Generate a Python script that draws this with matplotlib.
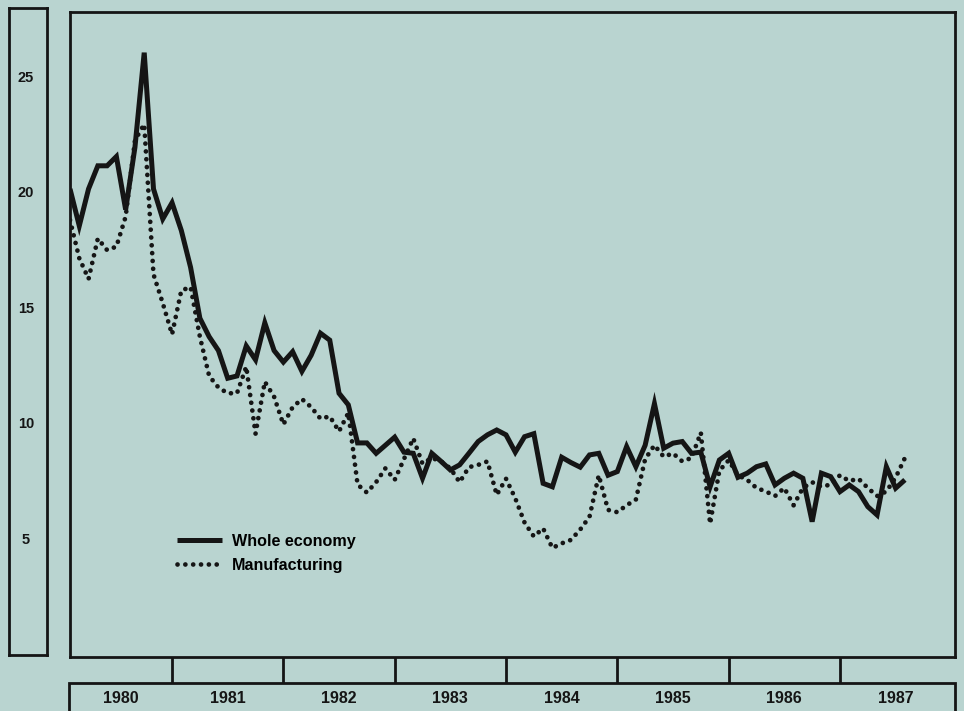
import numpy as np
import matplotlib.pyplot as plt
from matplotlib.lines import Line2D
from matplotlib.patches import Rectangle

plt.rcParams["font.family"] = ["Liberation Sans", "DejaVu Sans"]
plt.rcParams["font.weight"] = "bold"

# Monthly figures, % change on a year earlier, Feb 1980 to Aug 1987
start_year = 1980
first_month = 2
whole_economy = [
    20.2, 18.6, 20.2, 21.2, 21.2, 21.6, 19.3, 22.0, 26.1, 20.2, 18.9,           # 1980
    19.6, 18.4, 16.8, 14.6, 13.8, 13.2, 12.0, 12.1, 13.4, 12.8, 14.4, 13.2,     # 1981
    12.7, 13.15, 12.3, 13.0, 13.95, 13.65, 11.35, 10.85, 9.2, 9.2, 8.75, 9.1,   # 1982
    9.45, 8.8, 8.75, 7.67, 8.75, 8.4, 8.03, 8.25, 8.75, 9.26, 9.55, 9.76,       # 1983
    9.55, 8.8, 9.47, 9.6, 7.45, 7.3, 8.58, 8.35, 8.15, 8.68, 8.75, 7.8,         # 1984
    7.96, 9.04, 8.17, 9.1, 10.9, 8.97, 9.19, 9.26, 8.75, 8.8, 7.3, 8.46,        # 1985
    8.75, 7.71, 7.89, 8.17, 8.29, 7.38, 7.67, 7.89, 7.67, 5.79, 7.89, 7.74,     # 1986
    7.09, 7.38, 7.09, 6.44, 6.08, 8.17, 7.24, 7.6,                              # 1987
]
manufacturing = [
    18.85, 17.2, 16.3, 18.05, 17.55, 17.7, 19.0, 22.3, 23.0, 16.5, 15.25,
    13.9, 15.8, 15.95, 13.8, 12.1, 11.6, 11.35, 11.35, 12.5, 9.6, 11.85, 11.2,
    10.0, 10.75, 11.1, 10.75, 10.25, 10.35, 9.7, 10.5, 7.4, 7.05, 7.5, 8.1,
    7.6, 8.5, 9.4, 8.3, 8.55, 8.4, 8.1, 7.5, 8.15, 8.25, 8.4, 6.95,
    7.65, 6.8, 5.75, 5.15, 5.5, 4.65, 4.85, 5.0, 5.45, 6.0, 7.8, 6.3,
    6.2, 6.5, 6.75, 8.5, 9.1, 8.6, 8.75, 8.4, 8.55, 9.65, 5.7, 8.0,
    8.45, 7.8, 7.6, 7.25, 7.1, 6.9, 7.25, 6.5, 7.25, 7.5, 7.3, 7.4,
    7.8, 7.55, 7.65, 7.25, 6.9, 7.1, 7.7, 8.55,
]
series_labels = ["Whole economy", "Manufacturing"]
year_labels = ["1980", "1981", "1982", "1983", "1984", "1985", "1986", "1987"]
y_ticks = [5, 10, 15, 20, 25]

months = start_year + (first_month - 1 + np.arange(len(whole_economy))) / 12

BG = "#b9d4d0"
INK = "#151515"
W, H = 964, 711
SOLID_LW = 3.6
DOT_LW = 3.4
DOTS = (0, (0.01, 1.65))


def box(x0, y0, x1, y1):
    # pixel box (top-left origin) -> figure fraction rect
    return [x0 / W, 1 - y1 / H, (x1 - x0) / W, (y1 - y0) / H]


fig = plt.figure(figsize=(W / 100, H / 100), dpi=100, facecolor=BG)

ax = fig.add_axes(box(70, 12, 955, 657))
ax_left = fig.add_axes(box(9, 8, 47, 655))
ax_years = fig.add_axes(box(70, 657, 955, 711))

xlim = (1980 + 1 / 12, 1980 + 96.4 / 12)

# main panel
ax.set_facecolor("none")
ax.plot(months, whole_economy, color=INK, lw=SOLID_LW, solid_joinstyle="miter",
        solid_capstyle="butt", label=series_labels[0])
ax.plot(months, manufacturing, color=INK, lw=DOT_LW, linestyle=DOTS,
        dash_capstyle="round", label=series_labels[1])
ax.set_xlim(*xlim)
ax.set_ylim(-0.07, 27.86)
ax.set_xticks([])
ax.set_yticks([])
for s in ax.spines.values():
    s.set_linewidth(2.0)
    s.set_color(INK)

handles = [
    Line2D([], [], color=INK, lw=SOLID_LW, solid_capstyle="butt"),
    Line2D([], [], color=INK, lw=DOT_LW, linestyle=DOTS, dash_capstyle="round"),
]
ax.legend(handles, series_labels, loc="upper left", bbox_to_anchor=(0.121, 0.191),
          frameon=False, handlelength=2.8, handletextpad=0.6,
          labelspacing=0.55, borderaxespad=0, borderpad=0,
          prop={"weight": "bold", "size": 11.6})

# left scale box
ax_left.set_facecolor("none")
ax_left.set_ylim(0.02, 28.03)
ax_left.set_xticks([])
ax_left.set_yticks([])
for s in ax_left.spines.values():
    s.set_linewidth(2.0)
    s.set_color(INK)
for v in y_ticks:
    ax_left.text(0.45, v, str(v), transform=ax_left.get_yaxis_transform(),
                 ha="center", va="center", fontsize=10.5, fontweight="bold", color=INK)

# year strip
ax_years.set_facecolor("none")
ax_years.set_xlim(*xlim)
ax_years.set_ylim(0, 1)
ax_years.axis("off")
year_vals = [int(y) for y in year_labels]
ax_years.vlines(year_vals[1:], 0.52, 1.0, color=INK, lw=2.0)
ax_years.add_patch(Rectangle((-0.001, -0.5), 1.001, 1.02, transform=ax_years.transAxes,
                             fill=False, edgecolor=INK, lw=2.0, clip_on=False))
for y, lab in zip(year_vals, year_labels):
    lo, hi = max(y, xlim[0]), min(y + 1, xlim[1])
    ax_years.text((lo + hi) / 2, 0.24, lab, ha="center", va="center",
                  fontsize=11.5, fontweight="bold", color=INK)

fig.savefig("out.png", dpi=100, facecolor=BG)
